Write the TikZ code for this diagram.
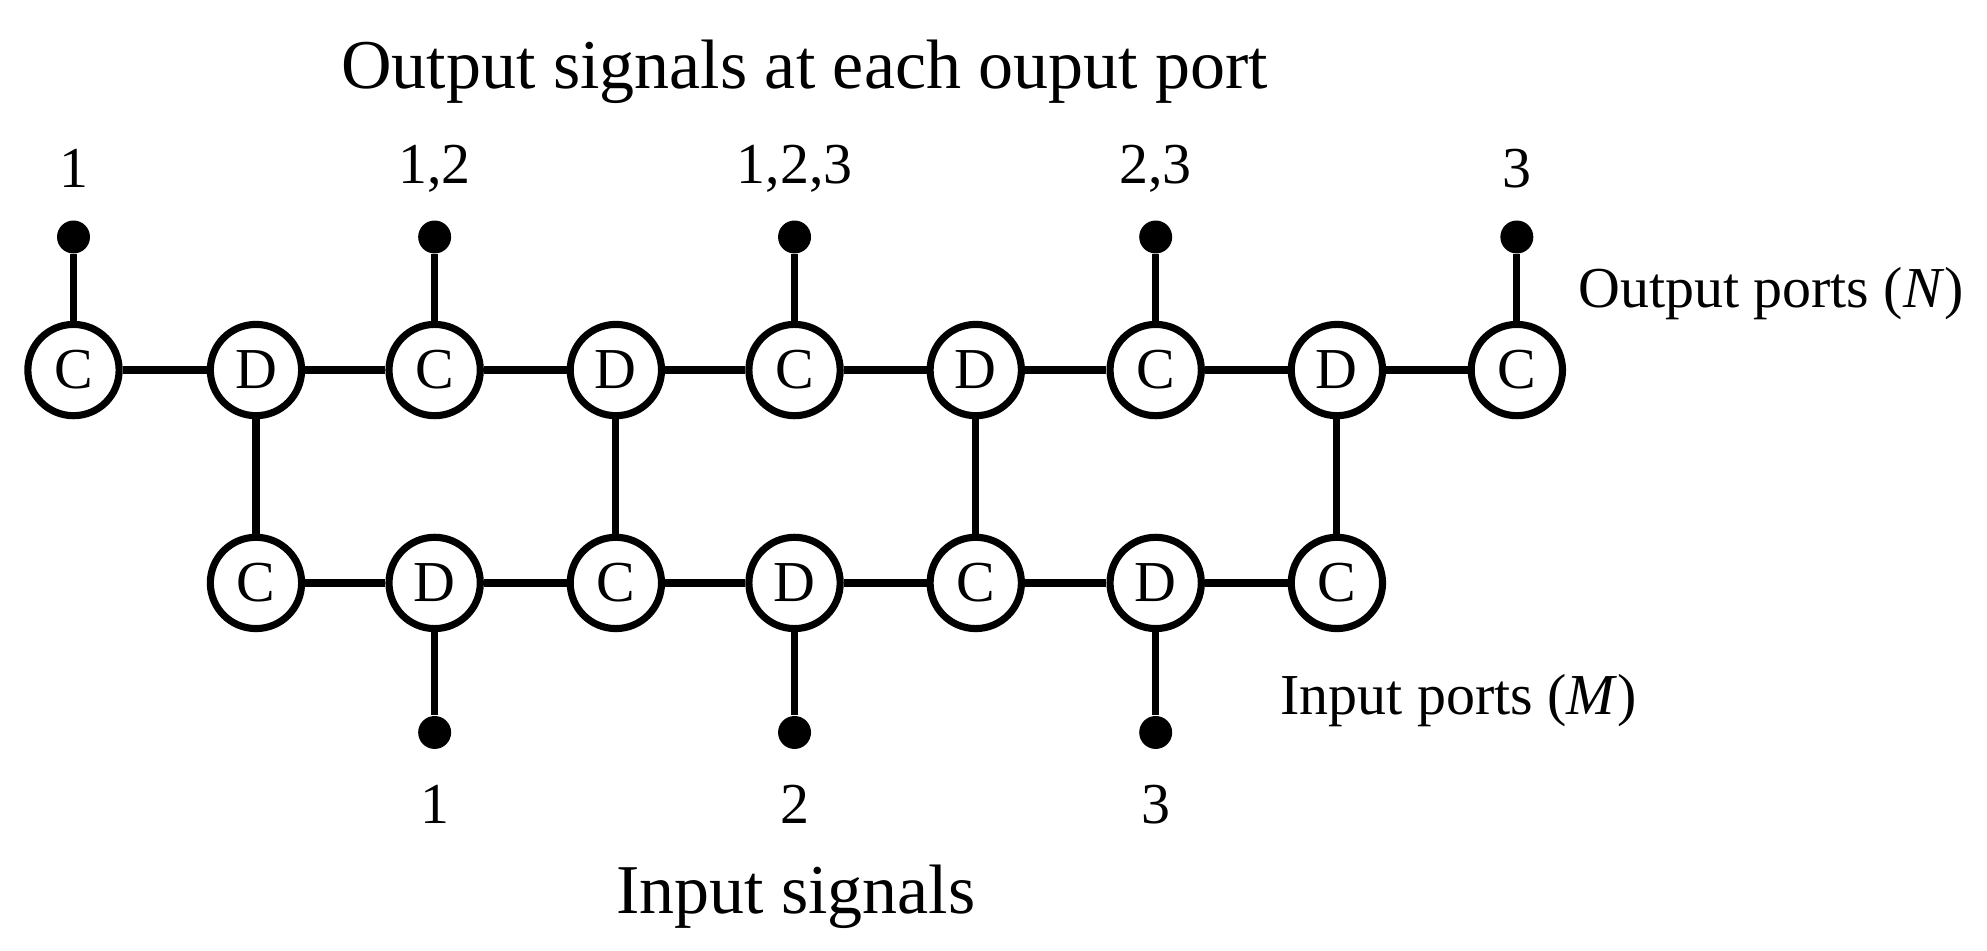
\documentclass[tikz,border=0pt]{standalone}
\usepackage{fontspec}
\setmainfont{Liberation Serif}
\usetikzlibrary{positioning}
\begin{document}
\begin{tikzpicture}[x=0.01cm,y=-0.01cm]
\tikzstyle{cell} = [circle, draw=black, line width=1.6pt, minimum size=0.72cm, inner sep=0pt, font=\fontsize{13}{13}\selectfont]
\tikzstyle{port} = [circle, fill=black, minimum size=0.26cm, inner sep=0pt]
\tikzstyle{lbl} = [font=\fontsize{13}{13}\selectfont]
\tikzstyle{link} = [line width=1.6pt]

\useasboundingbox (0,0) rectangle (1568,750);

\node[font=\fontsize{15.7}{16}\selectfont] (title) at (635,57) {Output signals at each ouput port};
\node[font=\fontsize{15.7}{16}\selectfont] (insig) at (628,708) {Input signals};
\node[lbl,anchor=west] (outp) at (1233,232) {Output ports (\textit{N})};
\node[lbl,anchor=west] (inp) at (998,553) {Input ports (\textit{M})};

% top row
\node (t1) [cell] at (58,292) {C};
\node (t2) [cell] at (202,292) {D};
\node (t3) [cell] at (343,292) {C};
\node (t4) [cell] at (486,292) {D};
\node (t5) [cell] at (627,292) {C};
\node (t6) [cell] at (770,292) {D};
\node (t7) [cell] at (912,292) {C};
\node (t8) [cell] at (1055,292) {D};
\node (t9) [cell] at (1197,292) {C};
% bottom row
\node (b1) [cell] at (202,460) {C};
\node (b2) [cell] at (343,460) {D};
\node (b3) [cell] at (486,460) {C};
\node (b4) [cell] at (627,460) {D};
\node (b5) [cell] at (770,460) {C};
\node (b6) [cell] at (912,460) {D};
\node (b7) [cell] at (1055,460) {C};

% output ports
\node (o1) [port] at (58,187) {};
\node (o2) [port] at (343,187) {};
\node (o3) [port] at (627,187) {};
\node (o4) [port] at (912,187) {};
\node (o5) [port] at (1197,187) {};
\node (lo1) [lbl] at (58,133) {1};
\node (lo2) [lbl] at (343,133) {1,2};
\node (lo3) [lbl] at (627,133) {1,2,3};
\node (lo4) [lbl] at (912,133) {2,3};
\node (lo5) [lbl] at (1197,133) {3};

% input ports
\node (i1) [port] at (343,578) {};
\node (i2) [port] at (627,578) {};
\node (i3) [port] at (912,578) {};
\node (li1) [lbl] at (343,635) {1};
\node (li2) [lbl] at (627,635) {2};
\node (li3) [lbl] at (912,635) {3};

\foreach \a/\b in {t1/t2,t2/t3,t3/t4,t4/t5,t5/t6,t6/t7,t7/t8,t8/t9,
  b1/b2,b2/b3,b3/b4,b4/b5,b5/b6,b6/b7,
  t2/b1,t4/b3,t6/b5,t8/b7,
  o1/t1,o2/t3,o3/t5,o4/t7,o5/t9,
  b2/i1,b4/i2,b6/i3}
  \draw [link] (\a) -- (\b);

\end{tikzpicture}
\end{document}
